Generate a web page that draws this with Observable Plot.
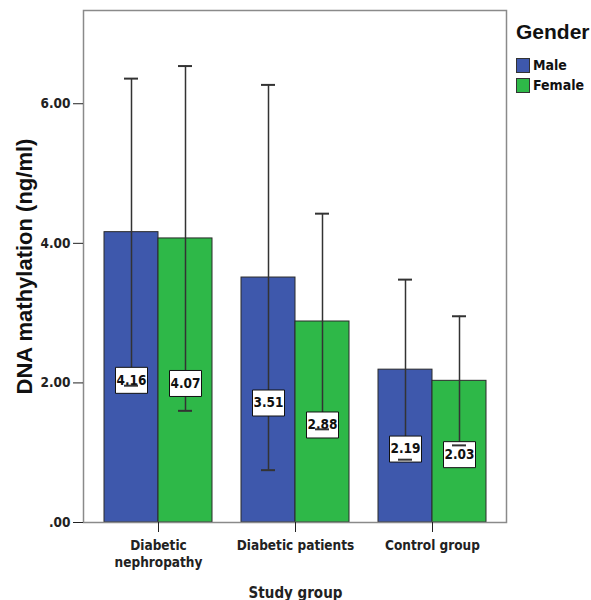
<!DOCTYPE html>
<html>
<head>
<meta charset="utf-8">
<script src="https://cdn.jsdelivr.net/npm/d3@7"></script>
<script src="https://cdn.jsdelivr.net/npm/@observablehq/plot@0.6"></script>
<style>
  body { margin: 0; background: #fff; }
  #wrap { position: relative; width: 591px; height: 600px; overflow: hidden; background: #fff; }
  #wrap svg { position: absolute; left: 0; top: 0; }
  g[aria-label="fx-axis label"] text { font-size: 15px; }
  #legend { position: absolute; left: 516px; top: 20px; font-family: "DejaVu Sans Condensed", "Liberation Sans Narrow", sans-serif; font-weight: bold; color: #111; }
  #legend .title { font-family: "Liberation Sans", Arial, sans-serif; font-size: 21px; font-weight: bold; margin-bottom: 11px; line-height: 24px; }
  #legend .row { display: flex; align-items: center; height: 20px; font-size: 14px; }
  #legend .sw { width: 14px; height: 15px; border: 1px solid #333; margin-right: 3px; box-sizing: border-box; }
</style>
</head>
<body>
<div id="wrap"></div>
<script>
const groups = ["Diabetic nephropathy", "Diabetic patients", "Control group"];
const groupLabels = ["Diabetic\nnephropathy", "Diabetic patients", "Control group"];
const genders = ["Male", "Female"];
const maleMeans = [4.16, 3.51, 2.19];
const femaleMeans = [4.07, 2.88, 2.03];
const maleErr = [2.20, 2.76, 1.29];
const femaleErr = [2.47, 1.545, 0.925];
const yTicks = [0, 2, 4, 6];
const yMax = 7.336;
const yLabel = "DNA mathylation (ng/ml)";
const xLabel = "Study group";
const colors = ["#3E58AC", "#2EB848"];

const data = [];
groups.forEach((g, i) => {
  data.push({group: g, gender: "Male", mean: maleMeans[i], err: maleErr[i]});
  data.push({group: g, gender: "Female", mean: femaleMeans[i], err: femaleErr[i]});
});

const narrow = "'DejaVu Sans Condensed','Liberation Sans Narrow',sans-serif";
const boxSymbol = {draw(ctx) { ctx.rect(-16, -13, 32, 26); }};

const chart = Plot.plot({
  width: 591,
  height: 600,
  marginLeft: 82,
  marginRight: 84,
  marginTop: 10,
  marginBottom: 78,
  style: {fontFamily: narrow, fontSize: "13.5px", fontWeight: "bold", color: "#222", background: "#fff"},
  fx: {domain: groups, paddingInner: 0.212, paddingOuter: 0.149},
  x: {domain: genders, padding: 0, axis: null},
  y: {domain: [0, yMax]},
  color: {domain: genders, range: colors},
  marks: [
    Plot.barY(data, {fx: "group", x: "gender", y: "mean", fill: "gender", stroke: "#2a2a2a", strokeWidth: 1}),
    Plot.ruleX(data, {fx: "group", x: "gender", y1: d => d.mean - d.err, y2: d => d.mean + d.err, stroke: "#333", strokeWidth: 1.5}),
    Plot.dot(data, {fx: "group", x: "gender", y: d => d.mean / 2, symbol: boxSymbol, fill: "white", stroke: "#111", strokeWidth: 1, r: 5, dy: 3}),
    Plot.text(data, {fx: "group", x: "gender", y: d => d.mean / 2, text: d => d.mean.toFixed(2), fontFamily: narrow, fontSize: 13.5, fontWeight: "bold", fill: "#111", dy: 3}),
    Plot.tickY(data, {fx: "group", x: "gender", y: d => d.mean + d.err, insetLeft: 20, insetRight: 20, stroke: "#333", strokeWidth: 2}),
    Plot.tickY(data, {fx: "group", x: "gender", y: d => d.mean - d.err, insetLeft: 20, insetRight: 20, stroke: "#333", strokeWidth: 2}),
    Plot.frame({facet: "super", stroke: "#8a8a8a", strokeWidth: 1.5, insetLeft: -21, insetRight: -20}),
    Plot.axisY({ticks: yTicks, tickFormat: d => d === 0 ? ".00" : d.toFixed(2), tickSize: 10, tickPadding: 3, label: null, dx: -21}),
    Plot.axisFx({anchor: "bottom", tickSize: 10, tickPadding: 6, tickFormat: d => groupLabels[groups.indexOf(d)],
      label: xLabel, labelAnchor: "center", lineHeight: 1.25}),
    Plot.text([yLabel], {facet: "super", text: d => d, frameAnchor: "left", textAnchor: "middle", rotate: -90, dx: -80,
      fontFamily: "'Liberation Sans',Arial,sans-serif", fontSize: 22, fontWeight: "bold", fill: "#111"})
  ]
});

const wrap = document.getElementById("wrap");
wrap.appendChild(chart);

const legend = document.createElement("div");
legend.id = "legend";
const title = document.createElement("div");
title.className = "title";
title.textContent = "Gender";
legend.appendChild(title);
genders.forEach((g, i) => {
  const row = document.createElement("div");
  row.className = "row";
  const sw = document.createElement("span");
  sw.className = "sw";
  sw.style.background = colors[i];
  const lab = document.createElement("span");
  lab.textContent = g;
  row.appendChild(sw);
  row.appendChild(lab);
  legend.appendChild(row);
});
wrap.appendChild(legend);
</script>
</body>
</html>
